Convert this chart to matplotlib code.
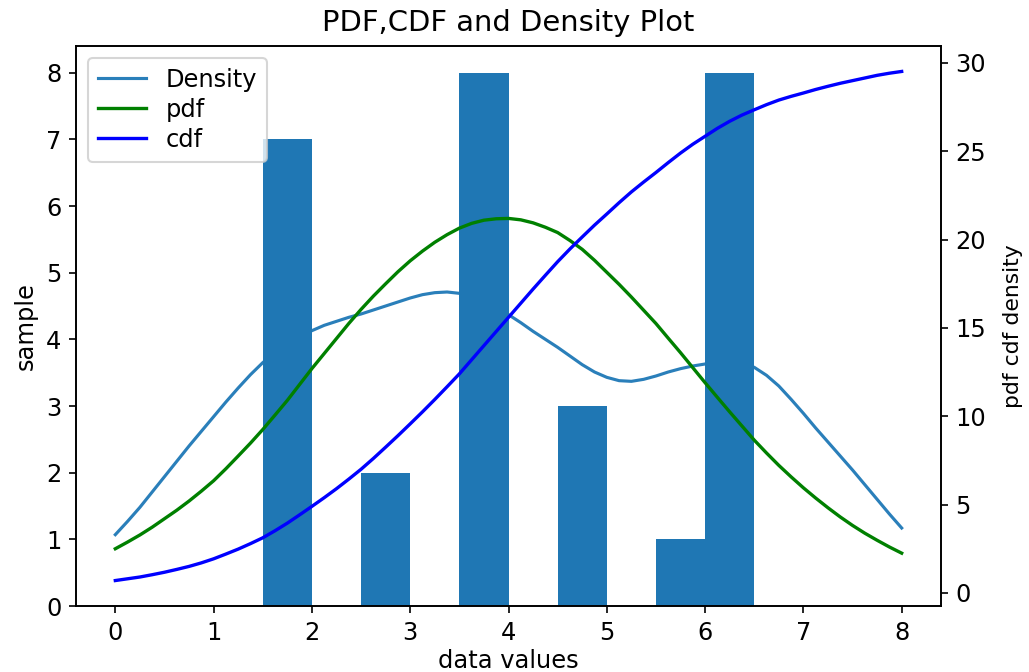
import matplotlib
matplotlib.use("Agg")
import matplotlib.pyplot as plt

# histogram bins (left edges, width 0.5) and counts
bin_left = [1.5, 2.0, 2.5, 3.0, 3.5, 4.0, 4.5, 5.0, 5.5, 6.0]
counts = [7, 0, 2, 0, 8, 0, 3, 0, 1, 8]

x_vals = [i * 0.125 for i in range(65)]

density = [1.07, 1.27, 1.48, 1.71, 1.94, 2.17, 2.40, 2.62,
           2.84, 3.06, 3.27, 3.47, 3.65, 3.80, 3.93, 4.04,
           4.13, 4.21, 4.27, 4.33, 4.38, 4.44, 4.50, 4.56,
           4.62, 4.67, 4.70, 4.71, 4.69, 4.63, 4.55, 4.46,
           4.37, 4.25, 4.12, 4.00, 3.88, 3.75, 3.62, 3.51,
           3.43, 3.38, 3.37, 3.40, 3.45, 3.51, 3.56, 3.60,
           3.63, 3.655, 3.67, 3.65, 3.58, 3.46, 3.30, 3.10,
           2.89, 2.67, 2.46, 2.25, 2.04, 1.82, 1.60, 1.38,
           1.17]

pdf = [2.50, 2.88, 3.28, 3.72, 4.20, 4.68, 5.20, 5.76,
       6.35, 7.03, 7.75, 8.48, 9.25, 10.07, 10.90, 11.80,
       12.70, 13.55, 14.40, 15.25, 16.05, 16.80, 17.50, 18.18,
       18.80, 19.35, 19.85, 20.28, 20.65, 20.92, 21.10, 21.18,
       21.20, 21.12, 20.95, 20.70, 20.40, 19.95, 19.45, 18.83,
       18.15, 17.47, 16.75, 16.00, 15.25, 14.42, 13.60, 12.75,
       11.90, 11.07, 10.25, 9.45, 8.65, 7.92, 7.22, 6.57,
       5.95, 5.37, 4.82, 4.30, 3.82, 3.38, 2.98, 2.60,
       2.25]

cdf = [0.70, 0.80, 0.90, 1.03, 1.17, 1.33, 1.50, 1.70,
       1.93, 2.20, 2.48, 2.79, 3.12, 3.52, 3.95, 4.42,
       4.90, 5.39, 5.90, 6.44, 7.00, 7.61, 8.25, 8.90,
       9.57, 10.25, 10.95, 11.67, 12.40, 13.20, 14.00, 14.80,
       15.60, 16.40, 17.20, 17.98, 18.75, 19.47, 20.15, 20.82,
       21.45, 22.09, 22.70, 23.26, 23.80, 24.36, 24.90, 25.40,
       25.85, 26.30, 26.70, 27.05, 27.35, 27.64, 27.90, 28.11,
       28.30, 28.50, 28.68, 28.85, 29.00, 29.15, 29.30, 29.42,
       29.52]

plt.rcParams["font.size"] = 11.6

fig = plt.figure(figsize=(1029 / 150, 672 / 150), dpi=150)
ax1 = fig.add_axes([76 / 1029, 1 - 606 / 672, (941 - 76) / 1029, (606 - 46) / 672])

# density sits under the bars
l_dens, = ax1.plot(x_vals, density, color="#2a7fba", lw=1.5,
                   label="Density", zorder=0.5)
ax1.bar(bin_left, counts, width=0.5, align="edge", color="#1f77b4", zorder=1)
ax1.set_xlabel("data values", labelpad=2)
ax1.set_ylabel("sample")
ax1.set_title("PDF,CDF and Density Plot", pad=7)

ax2 = ax1.twinx()
l_pdf, = ax2.plot(x_vals, pdf, color="green", lw=1.6, label="pdf")
l_cdf, = ax2.plot(x_vals, cdf, color="blue", lw=1.6, label="cdf")
ax2.set_ylabel("pdf cdf density", fontsize=10.5, labelpad=8)

ax2.legend(handles=[l_dens, l_pdf, l_cdf], loc="upper left",
           labelspacing=0.25, borderaxespad=0.5)

fig.savefig("out.png", dpi=150)
